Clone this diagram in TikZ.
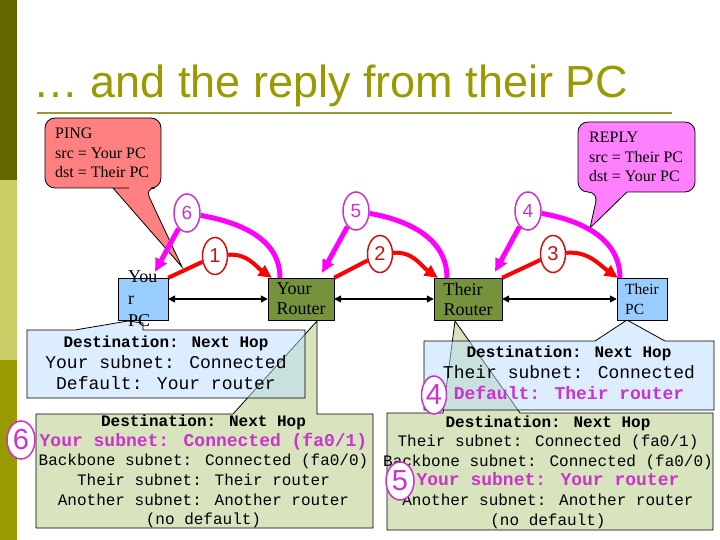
\documentclass[tikz,border=0pt]{standalone}
\usepackage{fontspec}
\setmainfont{Liberation Serif}
\newfontfamily\arialfont{Liberation Sans}
\newfontfamily\monofont{Liberation Mono}
\usetikzlibrary{arrows.meta,shapes.geometric}

\definecolor{barDark}{HTML}{666600}
\definecolor{barLight}{HTML}{CCCC66}
\definecolor{barMid}{HTML}{999900}
\definecolor{titleOlive}{HTML}{999900}
\definecolor{ruleOlive}{HTML}{999933}
\definecolor{pingRed}{HTML}{FF8080}
\definecolor{replyPink}{HTML}{FF80FF}
\definecolor{pcBlue}{HTML}{99CCFF}
\definecolor{routerGreen}{HTML}{76923C}
\definecolor{tableBlue}{HTML}{BBDDFF}
\definecolor{tableGreen}{HTML}{D7E4BD}
\definecolor{hopRed}{HTML}{FF0000}
\definecolor{numRed}{HTML}{CC1111}
\definecolor{hopMag}{HTML}{FF00FF}
\definecolor{numMag}{HTML}{CC33CC}

\tikzset{
  bubble/.style={draw=black, line width=0.8pt},
  calltext/.style={anchor=west, align=left, inner sep=0pt, font=\fontsize{16}{19.5}\selectfont},
  pcbox/.style={draw=black, fill=pcBlue, minimum width=50pt, minimum height=42pt, inner sep=0pt},
  routerbox/.style={draw=black, fill=routerGreen, minimum height=42pt, inner sep=0pt, align=left, font=\fontsize{18}{20}\selectfont},
  wire/.style={{Triangle[length=7pt,width=7pt]}-{Triangle[length=7pt,width=7pt]}, line width=1.5pt},
  hopred/.style={hopRed, line width=4pt},
  hopmag/.style={hopMag, line width=5pt},
  hoptip/.style={-{Triangle[length=13pt,width=12pt]}},
  rednum/.style={ellipse, draw=numRed, line width=1.5pt, fill=white, text=numRed, inner sep=0pt,
    minimum width=25pt, minimum height=37pt, font=\arialfont\fontsize{20}{20}\selectfont},
  magnum/.style={rednum, draw=numMag, text=numMag, minimum width=26pt, minimum height=38pt, font=\arialfont\fontsize{19}{19}\selectfont},
  tablenum/.style={magnum, minimum width=28pt, minimum height=38pt, font=\arialfont\fontsize{29}{29}\selectfont},
  greentable/.style={draw=black, line width=0.8pt, fill=tableGreen},
  bluetable/.style={draw=black, line width=0.8pt, fill=tableBlue, fill opacity=0.5},
  pcrules/.style={align=center, inner sep=0pt, font=\monofont\fontsize{16}{20.8}\selectfont},
  routerrules/.style={align=center, inner sep=0pt, font=\monofont\fontsize{16}{19.6}\selectfont},
}
\newcommand{\bigline}[1]{{\fontsize{18}{20}\selectfont #1}}
\newcommand{\hotline}[1]{{\fontsize{18}{20}\selectfont\bfseries\color{numMag}#1}}

\begin{document}
\begin{tikzpicture}[x=1pt,y=1pt]
\fill[white] (0,0) rectangle (720,-540);
\useasboundingbox (0,0) rectangle (720,-540);

% side bar and title
\fill[barDark] (0,0) rectangle (17,-180);
\fill[barLight] (0,-180) rectangle (17,-360);
\fill[barMid] (0,-360) rectangle (17,-540);
\node[anchor=base west, inner sep=0pt, text=titleOlive, font=\arialfont\fontsize{45}{50}\selectfont] (title) at (33,-98) {… and the reply from their PC};
\draw[ruleOlive, line width=2pt] (37,-113) -- (672,-113);

% callouts
\draw[bubble, fill=pingRed] (129,-188) [rounded corners=10pt] -- (45,-188) -- (45,-118) -- (161,-118) -- (161,-188) -- (145,-188) [sharp corners] -- (182,-267) -- (113,-188) -- cycle;
\node[calltext] (pingtext) at (55,-153) {PING\\src = Your PC\\dst = Their PC};
\draw[bubble, fill=replyPink] (640,-192) [rounded corners=10pt] -- (695,-192) -- (695,-122) -- (578,-122) -- (578,-192) -- (598,-192) [sharp corners] -- (590,-228) -- (627,-192) -- cycle;
\node[calltext] (replytext) at (589,-157) {REPLY\\src = Their PC\\dst = Your PC};

% routing tables
\draw[greentable] (36,-414) -- (233,-414) -- (317,-321) -- (317,-414) -- (373,-414) -- (373,-528) -- (36,-528) -- cycle;
\draw[greentable] (387,-413) -- (443,-413) -- (455,-321) -- (520,-413) -- (713,-413) -- (713,-530) -- (387,-530) -- cycle;
\draw[bluetable] (27,-330) -- (75,-330) -- (128,-321) -- (143,-323) -- (143,-330) -- (305,-330) -- (305,-398) -- (27,-398) -- cycle;
\draw[bluetable] (424,-341) -- (595,-341) -- (627,-320) -- (665,-341) -- (714,-341) -- (714,-410) -- (424,-410) -- cycle;

\node[pcrules] (yourpcrules) at (166,-363) {{\bfseries Destination: Next Hop}\\\bigline{Your subnet: Connected}\\\bigline{Default: Your router}};
\node[routerrules] (yourrouterrules) at (203.5,-471.5) {{\bfseries Destination: Next Hop}\\\hotline{Your subnet: Connected (fa0/1)}\\Backbone subnet: Connected (fa0/0)\\Their subnet: Their router\\Another subnet: Another router\\(no default)};
\node[pcrules] (theirpcrules) at (569,-373) {{\bfseries Destination: Next Hop}\\\bigline{Their subnet: Connected}\\\hotline{Default: Their router}};
\node[routerrules] (theirrouterrules) at (548,-472) {{\bfseries Destination: Next Hop}\\Their subnet: Connected (fa0/1)\\Backbone subnet: Connected (fa0/0)\\\hotline{Your subnet: Your router}\\Another subnet: Another router\\(no default)};

% hosts and routers
\node[pcbox] (yourpc) at (143,-299) {};
\node[anchor=west, align=left, inner sep=0pt, font=\fontsize{18}{22}\selectfont] (yourpctext) at (128,-299) {You\\r\\PC};
\node[routerbox, minimum width=66pt] (yourrouter) at (301,-299) {Your\\Router};
\node[routerbox, minimum width=68pt] (theirrouter) at (468,-299) {Their\\Router};
\node[pcbox, align=left, font=\fontsize{15.5}{20}\selectfont] (theirpc) at (642,-299) {Their\\PC};

\draw[wire] (yourpc) -- (yourrouter);
\draw[wire] (yourrouter) -- (theirrouter);
\draw[wire] (theirrouter) -- (theirpc);

% hops
\node[rednum] (n1) at (215,-256) {1};
\node[rednum] (n2) at (380,-254) {2};
\node[rednum] (n3) at (553,-254) {3};
\node[magnum] (n4) at (528,-211) {4};
\node[magnum] (n5) at (356,-211) {5};
\node[magnum] (n6) at (187,-213) {6};

\draw[hopred] (yourpc.north east) -- (n1);
\draw[hopred, hoptip] (n1) to[out=5,in=145] ([xshift=4pt]yourrouter.north west);
\draw[hopred] (yourrouter.north east) -- (n2);
\draw[hopred, hoptip] (n2) to[out=5,in=145] ([xshift=4pt]theirrouter.north west);
\draw[hopred] (theirrouter.north east) -- (n3);
\draw[hopred, hoptip] (n3) to[out=5,in=145] ([xshift=1pt]theirpc.north west);

\draw[hopmag] ([xshift=-21pt]yourrouter.north) to[out=90,in=-10] (n6);
\draw[hopmag, hoptip] (n6) -- ([xshift=12pt,yshift=6pt]yourpc.north);
\draw[hopmag] ([xshift=-21pt]theirrouter.north) to[out=90,in=-10] (n5);
\draw[hopmag, hoptip] (n5) -- ([xshift=21pt,yshift=5pt]yourrouter.north);
\draw[hopmag] ([xshift=-22pt]theirpc.north) to[out=90,in=-10] (n4);
\draw[hopmag, hoptip] (n4) -- ([xshift=27pt,yshift=6pt]theirrouter.north);

% steps in the tables
\node[tablenum] (t6) at (21,-440) {6};
\node[tablenum, minimum width=25pt] (t4) at (434,-395) {4};
\node[tablenum] (t5) at (400,-481) {5};
\end{tikzpicture}
\end{document}
